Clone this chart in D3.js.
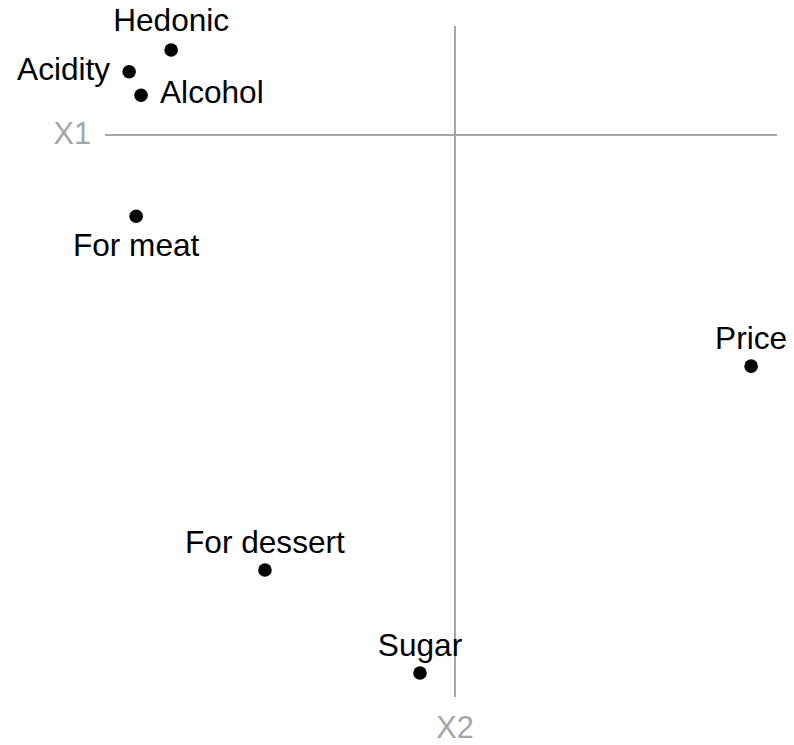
<!DOCTYPE html>
<html>
<head>
<meta charset="utf-8">
<script src="https://cdn.jsdelivr.net/npm/d3@7"></script>
<style>
  html, body { margin: 0; padding: 0; background: #fff; }
  svg { display: block; font-family: "Liberation Sans", Arial, Helvetica, sans-serif; }
</style>
</head>
<body>
<svg id="chart" width="794" height="745"></svg>
<script>
// Data (coordinates, arbitrary map units)
const names = ["Hedonic", "Acidity", "Alcohol", "For meat", "Price", "For dessert", "Sugar"];
const xValues = [-0.811, -0.931, -0.897, -0.911, 0.846, -0.543, -0.100];
const yValues = [0.156, 0.116, 0.073, -0.149, -0.424, -0.798, -0.987];
const axisNames = ["X1", "X2"];

// Label placement (layout, as repelled labels in the original)
const labelPlacement = {
  "Hedonic":     { dx: 0,   dy: -19, anchor: "middle" },
  "Acidity":     { dx: -19, dy: 8,   anchor: "end" },
  "Alcohol":     { dx: 19,  dy: 8,   anchor: "start" },
  "For meat":    { dx: 0,   dy: 40,  anchor: "middle" },
  "Price":       { dx: 0,   dy: -17, anchor: "middle" },
  "For dessert": { dx: 0,   dy: -17, anchor: "middle" },
  "Sugar":       { dx: 0,   dy: -17, anchor: "middle" }
};

const svg = d3.select("#chart");
const x = d3.scaleLinear().domain([-1.0, 0.92]).range([105, 777]);
const y = d3.scaleLinear().domain([0.2, -1.031]).range([26, 697]);

const axisColor = "#a6a6a6";
const fontSize = 31.6;

// axis lines through origin
svg.append("line")
  .attr("x1", x(-1.0)).attr("x2", x(0.92))
  .attr("y1", y(0)).attr("y2", y(0))
  .attr("stroke", axisColor).attr("stroke-width", 2);
svg.append("line")
  .attr("x1", x(0)).attr("x2", x(0))
  .attr("y1", y(0.2)).attr("y2", y(-1.031))
  .attr("stroke", axisColor).attr("stroke-width", 2);

// axis names
svg.append("text")
  .attr("x", x(-1.0) - 14).attr("y", y(0) + 9)
  .attr("text-anchor", "end")
  .attr("font-size", fontSize - 1)
  .attr("fill", axisColor)
  .text(axisNames[0]);
svg.append("text")
  .attr("x", x(0)).attr("y", y(-1.031) + 41)
  .attr("text-anchor", "middle")
  .attr("font-size", fontSize - 1)
  .attr("fill", axisColor)
  .text(axisNames[1]);

const data = names.map((n, i) => ({ name: n, x: xValues[i], y: yValues[i] }));

svg.append("g").selectAll("circle")
  .data(data).join("circle")
  .attr("cx", d => x(d.x)).attr("cy", d => y(d.y))
  .attr("r", 6.8).attr("fill", "#000");

svg.append("g").selectAll("text")
  .data(data).join("text")
  .attr("x", d => x(d.x) + labelPlacement[d.name].dx)
  .attr("y", d => y(d.y) + labelPlacement[d.name].dy)
  .attr("text-anchor", d => labelPlacement[d.name].anchor)
  .attr("font-size", fontSize)
  .attr("fill", "#000")
  .text(d => d.name);
</script>
</body>
</html>
